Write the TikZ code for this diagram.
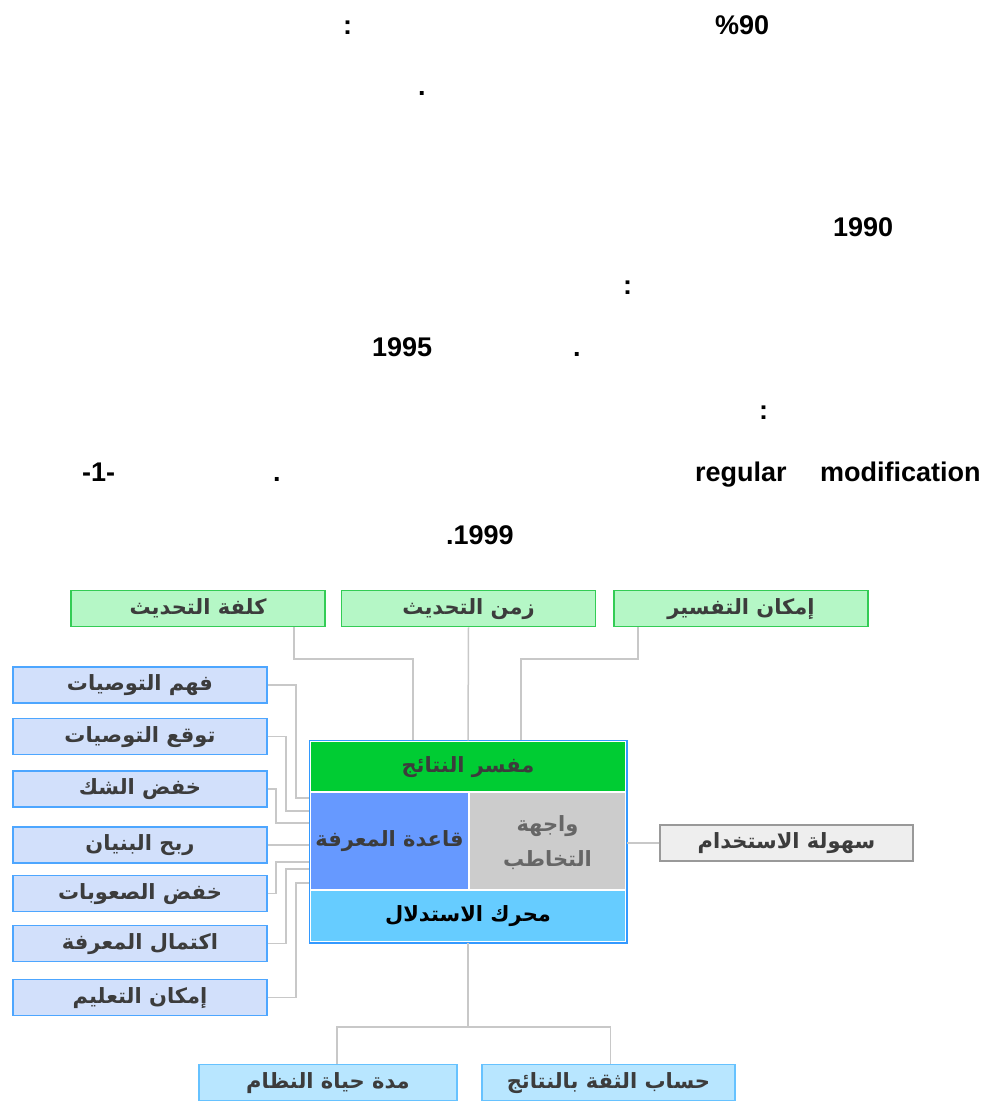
\documentclass[tikz,border=0pt]{standalone}
\usepackage{fontspec}
\setmainfont{Liberation Sans}
\newfontfamily\arabicfont[Script=Arabic]{DejaVu Sans}
\TeXXeTstate=1
\newcommand{\ar}[1]{{\arabicfont\beginR #1\endR}}

\definecolor{topfill}{HTML}{B5F7C6}
\definecolor{topdraw}{HTML}{33CC55}
\definecolor{leftfill}{HTML}{D2E0FB}
\definecolor{leftdraw}{HTML}{4DA6FF}
\definecolor{botfill}{HTML}{B8E6FF}
\definecolor{botdraw}{HTML}{66C2FF}
\definecolor{rightfill}{HTML}{EEEEEE}
\definecolor{rightdraw}{HTML}{999999}
\definecolor{resfill}{HTML}{00CC33}
\definecolor{kbfill}{HTML}{6699FF}
\definecolor{uifill}{HTML}{CCCCCC}
\definecolor{inffill}{HTML}{66CCFF}
\definecolor{mainedge}{HTML}{3399FF}
\definecolor{connline}{HTML}{C8C8C8}
\definecolor{boxtext}{HTML}{3C3C3C}

\tikzset{
  bodytext/.style={font=\bfseries\fontsize{27}{27}\selectfont, inner sep=0pt, anchor=base west},
  labelbox/.style={line width=1.5pt, inner sep=0pt, minimum height=36pt, text=boxtext,
    text height=1.1em, text depth=0pt, font=\arabicfont\bfseries\fontsize{21}{24}\selectfont},
  topbox/.style={labelbox, draw=topdraw, fill=topfill, minimum width=254pt},
  leftbox/.style={labelbox, draw=leftdraw, fill=leftfill, minimum width=254pt},
  botbox/.style={labelbox, draw=botdraw, fill=botfill},
  rightbox/.style={labelbox, draw=rightdraw, fill=rightfill, minimum width=253pt},
  part/.style={draw=white, line width=1.5pt, inner sep=0pt, align=center, text=boxtext,
    font=\arabicfont\bfseries\fontsize{21}{35}\selectfont},
  oneline/.style={text height=1.1em, text depth=0pt},
  conn/.style={draw=connline, line width=1.5pt},
}

\begin{document}
\begin{tikzpicture}[x=1pt,y=-1pt]
  \useasboundingbox (0,0) rectangle (1004,1101);

  % text above the figure
  \node[bodytext] (pct)  at (715,34)  {\%90};
  \node[bodytext] (c1)   at (343,34)  {:};
  \node[bodytext] (d1)   at (418,95)  {.};
  \node[bodytext] (y90)  at (833,236) {1990};
  \node[bodytext] (c2)   at (623,294) {:};
  \node[bodytext] (y95)  at (372,356) {1995};
  \node[bodytext] (d2)   at (573,356) {.};
  \node[bodytext] (c3)   at (759,419) {:};
  \node[bodytext] (reg)  at (695,481) {regular};
  \node[bodytext] (mod)  at (820,481) {modification};
  \node[bodytext] (d3)   at (273,481) {.};
  \node[bodytext] (fig)  at (82,481)  {-1-};
  \node[bodytext] (y99)  at (446,544) {.1999};

  % main block
  \node[part, oneline, fill=resfill, minimum width=316pt, minimum height=51pt] (res) at (468,766.5) {\ar{مفسر النتائج}};
  \node[part, oneline, fill=kbfill, minimum width=159pt, minimum height=98pt] (kb) at (389.5,841) {\ar{قاعدة المعرفة}};
  \node[part, fill=uifill, minimum width=157pt, minimum height=98pt, text depth=0pt, text=black!60] (ui) at (547.5,841) {\ar{واجهة}\\\ar{التخاطب}};
  \node[part, oneline, fill=inffill, minimum width=316pt, minimum height=52pt, text=black] (inf) at (468,916) {\ar{محرك الاستدلال}};
  \draw[mainedge, line width=1.5pt] (res.north west) rectangle (inf.south east);

  % top boxes
  \node[topbox] (kulfa) at (198,608.5) {\ar{كلفة التحديث}};
  \node[topbox] (zaman) at (468.5,608.5) {\ar{زمن التحديث}};
  \node[topbox] (tafsir) at (741,608.5) {\ar{إمكان التفسير}};

  % left boxes
  \node[leftbox] (fahm)   at (140,685)   {\ar{فهم التوصيات}};
  \node[leftbox] (tawaqq) at (140,736.5) {\ar{توقع التوصيات}};
  \node[leftbox] (shakk)  at (140,789)   {\ar{خفض الشك}};
  \node[leftbox] (ribh)   at (140,845)   {\ar{ربح البنيان}};
  \node[leftbox] (suub)   at (140,893.5) {\ar{خفض الصعوبات}};
  \node[leftbox] (iktim)  at (140,943.5) {\ar{اكتمال المعرفة}};
  \node[leftbox] (talim)  at (140,997.5) {\ar{إمكان التعليم}};

  % right and bottom boxes
  \node[rightbox] (suhula) at (786.5,843) {\ar{سهولة الاستخدام}};
  \node[botbox, minimum width=258pt] (mudda) at (328,1082.5) {\ar{مدة حياة النظام}};
  \node[botbox, minimum width=253pt] (hisab) at (608.5,1082.5) {\ar{حساب الثقة بالنتائج}};

  % connectors
  \draw[conn] ([xshift=96pt]kulfa.south) |- (413,659) -- (res.north -| 413,0);
  \draw[conn] (zaman.south) -- (res.north);
  \draw[conn] ([xshift=-103pt]tafsir.south) |- (521,659) -- (res.north -| 521,0);

  \draw[conn] (fahm.east)   -| (296,798) -- (kb.west |- 0,798);
  \draw[conn] (tawaqq.east) -| (286,811) -- (kb.west |- 0,811);
  \draw[conn] (shakk.east)  -| (276,823) -- (kb.west |- 0,823);
  \draw[conn] (ribh.east)   -- (kb.west |- ribh.east);
  \draw[conn] (suub.east)   -| (276,862) -- (kb.west |- 0,862);
  \draw[conn] (iktim.east)  -| (286,869) -- (kb.west |- 0,869);
  \draw[conn] (talim.east)  -| (296,883) -- (kb.west |- 0,883);

  \draw[conn] (suhula.west) -- (ui.east |- suhula.west);

  \coordinate (split) at (468,1027);
  \draw[conn] (inf.south) -- (split);
  \draw[conn] (split) -| ([xshift=9pt]mudda.north);
  \draw[conn] (split) -| ([xshift=2pt]hisab.north);
\end{tikzpicture}
\end{document}
